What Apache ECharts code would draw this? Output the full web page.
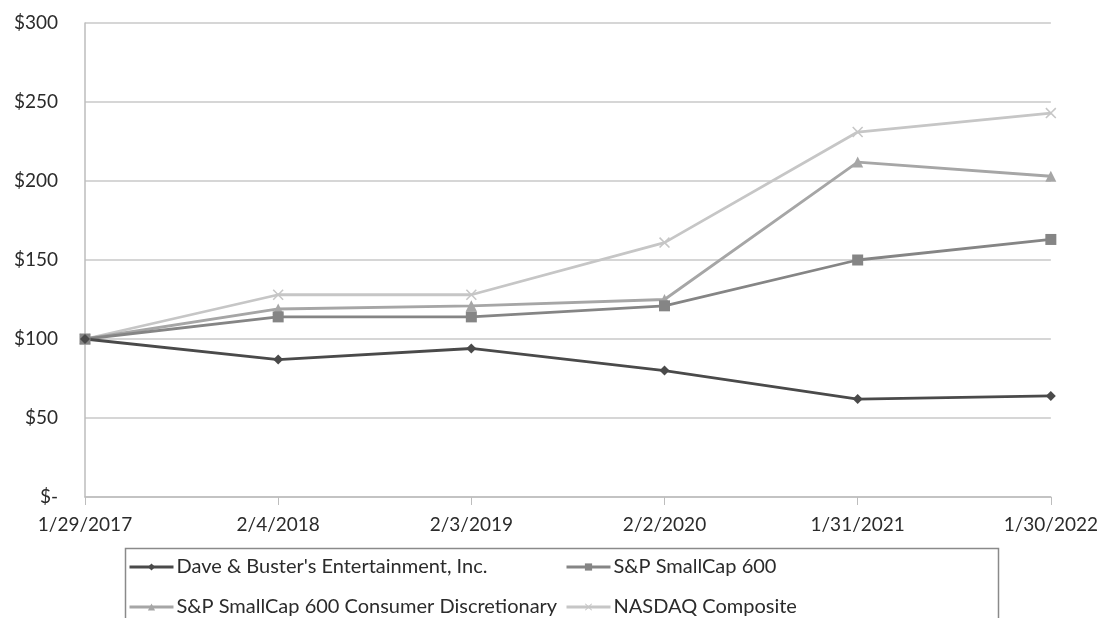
<!DOCTYPE html>
<html>
<head>
<meta charset="utf-8">
<script src="https://cdn.jsdelivr.net/npm/echarts@6/dist/echarts.min.js"></script>
<style>
  html, body { margin: 0; padding: 0; background: #fff; }
  #main { width: 1101px; height: 618px; }
</style>
</head>
<body>
<div id="main"></div>
<script>
var dates = ['1/29/2017', '2/4/2018', '2/3/2019', '2/2/2020', '1/31/2021', '1/30/2022']
var daveBusters = [100, 87, 94, 80, 62, 64]
var sp600 = [100, 114, 114, 121, 150, 163]
var sp600ConsDisc = [100, 119, 121, 125, 212, 203]
var nasdaq = [100, 128, 128, 161, 231, 243]

var names = [
  "Dave & Buster's Entertainment, Inc.",
  'S&P SmallCap 600',
  'S&P SmallCap 600 Consumer Discretionary',
  'NASDAQ Composite'
]
var font = 'Lato, "Open Sans", sans-serif'
var xPath = 'path://M0,1 L1,0 L5,4 L9,0 L10,1 L6,5 L10,9 L9,10 L5,6 L1,10 L0,9 L4,5 Z'

function mkSeries(name, data, color, symbol, size) {
  return {
    name: name,
    type: 'line',
    data: data,
    symbol: symbol,
    symbolSize: size,
    showAllSymbol: true,
    lineStyle: { color: color, width: 2.8 },
    itemStyle: { color: color },
    emphasis: { disabled: true },
    animation: false
  }
}

// one legend per item so the 2x2 layout lands where the reference has it
function mkLegend(name, left, top) {
  return {
    data: [name],
    left: left,
    top: top,
    itemWidth: 44,
    itemHeight: 9,
    padding: 0,
    selectedMode: false,
    lineStyle: { width: 3 },
    textStyle: { color: '#2b2b2b', fontSize: 20, fontFamily: font, padding: [0, 0, 0, -2] }
  }
}

var chart = echarts.init(document.getElementById('main'))
chart.setOption({
  backgroundColor: '#fff',
  textStyle: { fontFamily: font },
  grid: { left: 85, right: 49, top: 23, bottom: 121 },
  xAxis: {
    type: 'category',
    data: dates,
    boundaryGap: false,
    axisLine: { lineStyle: { color: '#bdbdbd', width: 1.5 } },
    axisTick: { show: true, length: 8, lineStyle: { color: '#bdbdbd' } },
    axisLabel: { color: '#2b2b2b', fontSize: 19, margin: 18, fontFamily: font },
    splitLine: { show: false }
  },
  yAxis: {
    type: 'value',
    min: 0,
    max: 300,
    interval: 50,
    axisLine: { show: true, lineStyle: { color: '#bdbdbd', width: 1.5 } },
    axisTick: { show: false },
    axisLabel: {
      color: '#2b2b2b',
      fontSize: 19,
      margin: 27,
      fontFamily: font,
      formatter: function (v) { return v === 0 ? '$-' : '$' + v }
    },
    splitLine: { lineStyle: { color: '#c8c8c8', width: 1.5 } }
  },
  legend: [
    mkLegend(names[0], 128, 557),
    mkLegend(names[1], 565, 557),
    mkLegend(names[2], 128, 597),
    mkLegend(names[3], 565, 597)
  ],
  graphic: [
    {
      type: 'rect',
      left: 123,
      top: 546,
      shape: { width: 873, height: 100 },
      style: { fill: 'none', stroke: '#8a8a8a', lineWidth: 1.5 },
      z: -1
    }
  ],
  series: [
    mkSeries(names[3], nasdaq, '#c6c6c6', xPath, 11),
    mkSeries(names[2], sp600ConsDisc, '#a6a6a6', 'triangle', 11),
    mkSeries(names[1], sp600, '#858585', 'rect', 11),
    mkSeries(names[0], daveBusters, '#4a4a4a', 'diamond', 10)
  ]
})
</script>
</body>
</html>
